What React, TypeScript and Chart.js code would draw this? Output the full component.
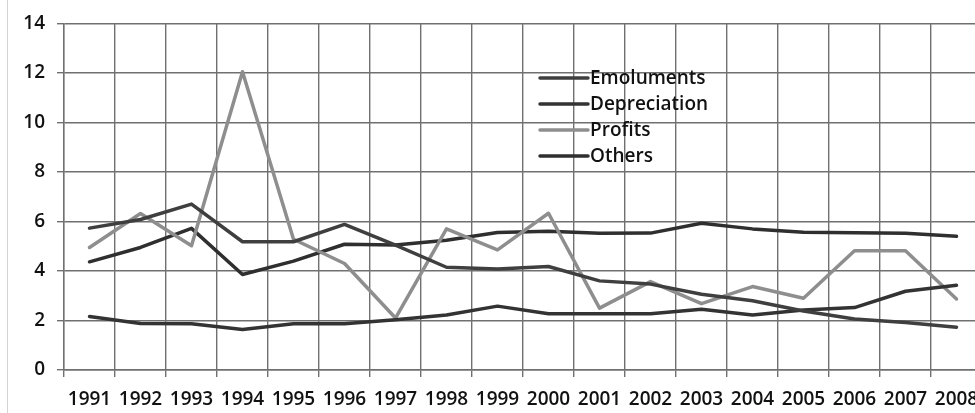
import React, { useEffect, useRef } from "react";
import { Chart, registerables } from "chart.js";

Chart.register(...registerables);

const years = ["1991","1992","1993","1994","1995","1996","1997","1998","1999","2000","2001","2002","2003","2004","2005","2006","2007","2008"];
const emoluments = [5.73, 6.08, 6.7, 5.18, 5.18, 5.88, 5.04, 4.15, 4.08, 4.18, 3.6, 3.47, 3.06, 2.8, 2.38, 2.06, 1.92, 1.73];
const depreciation = [2.16, 1.88, 1.87, 1.64, 1.87, 1.87, 2.03, 2.22, 2.58, 2.27, 2.27, 2.27, 2.45, 2.22, 2.42, 2.52, 3.18, 3.42];
const profits = [4.95, 6.32, 5.02, 12.05, 5.28, 4.3, 2.1, 5.7, 4.85, 6.33, 2.5, 3.57, 2.68, 3.37, 2.9, 4.82, 4.82, 2.87];
const others = [4.37, 4.95, 5.72, 3.86, 4.4, 5.08, 5.05, 5.24, 5.55, 5.6, 5.52, 5.53, 5.93, 5.7, 5.56, 5.54, 5.52, 5.4];
const seriesNames = ["Emoluments", "Depreciation", "Profits", "Others"];
const seriesColors = ["#3f3f3f", "#333333", "#8e8e8e", "#2f2f2f"];
const yTicks = [0, 2, 4, 6, 8, 10, 12, 14];

const FONT = "'Open Sans', 'Liberation Sans', sans-serif";

const legendPlugin = {
  id: "customLegend",
  afterDraw(chart: any) {
    const ctx = chart.ctx;
    ctx.save();
    const x0 = 540, x1 = 588, tx = 590;
    const ys = [78, 104, 130, 156];
    ctx.font = `600 19px ${FONT}`;
    ctx.textBaseline = "middle";
    ctx.textAlign = "left";
    seriesNames.forEach((name, i) => {
      ctx.strokeStyle = seriesColors[i];
      ctx.lineWidth = 3.5;
      ctx.lineCap = "round";
      ctx.beginPath();
      ctx.moveTo(x0, ys[i]);
      ctx.lineTo(x1, ys[i]);
      ctx.stroke();
      ctx.fillStyle = "#111111";
      ctx.fillText(name, tx, ys[i] + 1);
    });
    ctx.restore();
  },
};

const borderPlugin = {
  id: "outerBorder",
  beforeDraw(chart: any) {
    const ctx = chart.ctx;
    ctx.save();
    ctx.fillStyle = "#ffffff";
    ctx.fillRect(0, 0, chart.width, chart.height);
    ctx.strokeStyle = "#d4d4d4";
    ctx.lineWidth = 1;
    ctx.beginPath();
    ctx.moveTo(7.5, 0);
    ctx.lineTo(7.5, chart.height);
    ctx.stroke();
    ctx.restore();
  },
};

export default function App() {
  const ref = useRef<HTMLCanvasElement | null>(null);
  useEffect(() => {
    document.body.style.margin = "0";
    const data = [emoluments, depreciation, profits, others];
    const chart = new Chart(ref.current as HTMLCanvasElement, {
      type: "line",
      data: {
        labels: years,
        datasets: seriesNames.map((name, i) => ({
          label: name,
          data: data[i],
          borderColor: seriesColors[i],
          backgroundColor: seriesColors[i],
          borderWidth: 3.5,
          pointRadius: 0,
          tension: 0,
          borderJoinStyle: "round" as const,
          borderCapStyle: "round" as const,
        })),
      },
      options: {
        animation: false,
        responsive: false,
        maintainAspectRatio: false,
        layout: { padding: { top: 17, right: 18, bottom: 0, left: 0 } },
        plugins: { legend: { display: false }, tooltip: { enabled: false } },
        scales: {
          x: {
            offset: true,
            grid: { offset: true, color: "#707070", lineWidth: 1.4, tickLength: 7, drawTicks: true },
            border: { color: "#707070", width: 1.4 },
            ticks: { color: "#111111", font: { family: FONT, size: 19, weight: 600 }, padding: 11, maxRotation: 0, autoSkip: false },
            afterFit: (s: any) => { s.height = 43; },
          },
          y: {
            min: 0,
            max: 14,
            afterBuildTicks: (s: any) => { s.ticks = yTicks.map((v) => ({ value: v })); },
            grid: { color: "#707070", lineWidth: 1.4, tickLength: 7 },
            border: { color: "#707070", width: 1.4 },
            ticks: { color: "#111111", font: { family: FONT, size: 19, weight: 600 }, padding: 12 },
            afterFit: (s: any) => { s.width = 64; },
          },
        },
      },
      plugins: [borderPlugin, legendPlugin],
    });
    return () => chart.destroy();
  }, []);
  return (
    <div style={{ width: 975, height: 413, overflow: "hidden", position: "relative" }}>
      <canvas ref={ref} width={1000} height={413} style={{ display: "block" }} />
    </div>
  );
}
